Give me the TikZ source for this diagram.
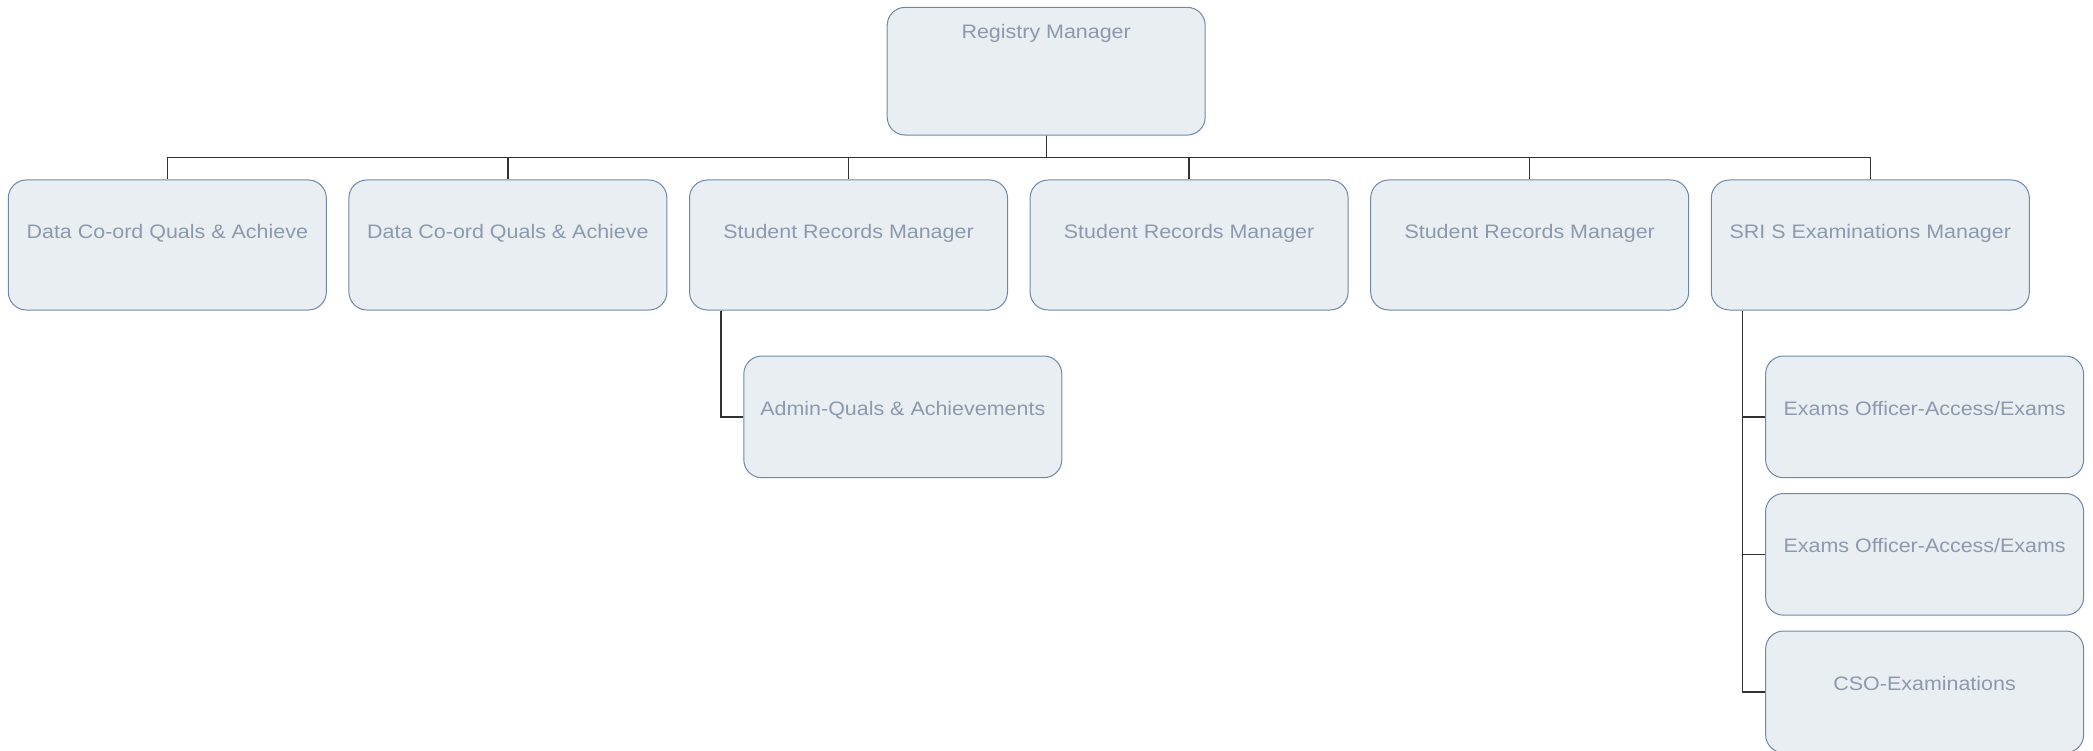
\documentclass[tikz,border=0pt]{standalone}
\usepackage{fontspec}
\newfontfamily\chartfont{Liberation Sans}[FakeStretch=1.1]
\usetikzlibrary{positioning}
\definecolor{boxfill}{RGB}{232,238,241}
\definecolor{boxline}{RGB}{112,136,168}
\definecolor{boxtext}{RGB}{140,153,174}

\begin{document}
\begin{tikzpicture}[x=1pt,y=-1pt,
  box/.style={draw=boxline, fill=boxfill, rounded corners=18pt, line width=1pt,
    minimum width=318pt, minimum height=130pt, text=boxtext,
    font=\chartfont\fontsize{19.5}{22}\selectfont, text height=14pt, text depth=26pt},
  subbox/.style={box, minimum height=121.7pt, text depth=17.7pt},
  conn/.style={draw=black!80, line width=1.3pt}]
  \useasboundingbox (0,0) rectangle (2093,751);

  \node[box, minimum height=127.7pt, text depth=78.9pt] (reg) at (1046.2,71.2) {Registry Manager};

  \node[box]                           (dc1)  at (167.3,245) {Data Co-ord Quals \& Achieve};
  \node[box]                           (dc2)  [right=21.6pt of dc1]  {Data Co-ord Quals \& Achieve};
  \node[box]                           (srm1) [right=21.6pt of dc2]  {Student Records Manager};
  \node[box]                           (srm2) [right=21.6pt of srm1] {Student Records Manager};
  \node[box]                           (srm3) [right=21.6pt of srm2] {Student Records Manager};
  \node[box]                           (sris) [right=21.6pt of srm3] {SRI S Examinations Manager};

  \node[subbox, anchor=north west]     (adm)  at ([xshift=54.3pt,yshift=-45pt]srm1.south west) {Admin-Quals \& Achievements};
  \node[subbox, anchor=north west]     (exo1) at ([xshift=54.3pt,yshift=-45pt]sris.south west) {Exams Officer-Access/Exams};
  \node[subbox]                        (exo2) [below=14.8pt of exo1] {Exams Officer-Access/Exams};
  \node[subbox]                        (cso)  [below=14.8pt of exo2] {CSO-Examinations};

  \foreach \n in {dc1,dc2,srm1,srm2,srm3,sris}
    \draw[conn] (reg.south) -- ([yshift=-22.3pt]reg.south) -| (\n.north);

  \draw[conn] ([xshift=32pt]srm1.south west) |- (adm.west);
  \foreach \n in {exo1,exo2,cso}
    \draw[conn] ([xshift=32pt]sris.south west) |- (\n.west);

\end{tikzpicture}
\end{document}
